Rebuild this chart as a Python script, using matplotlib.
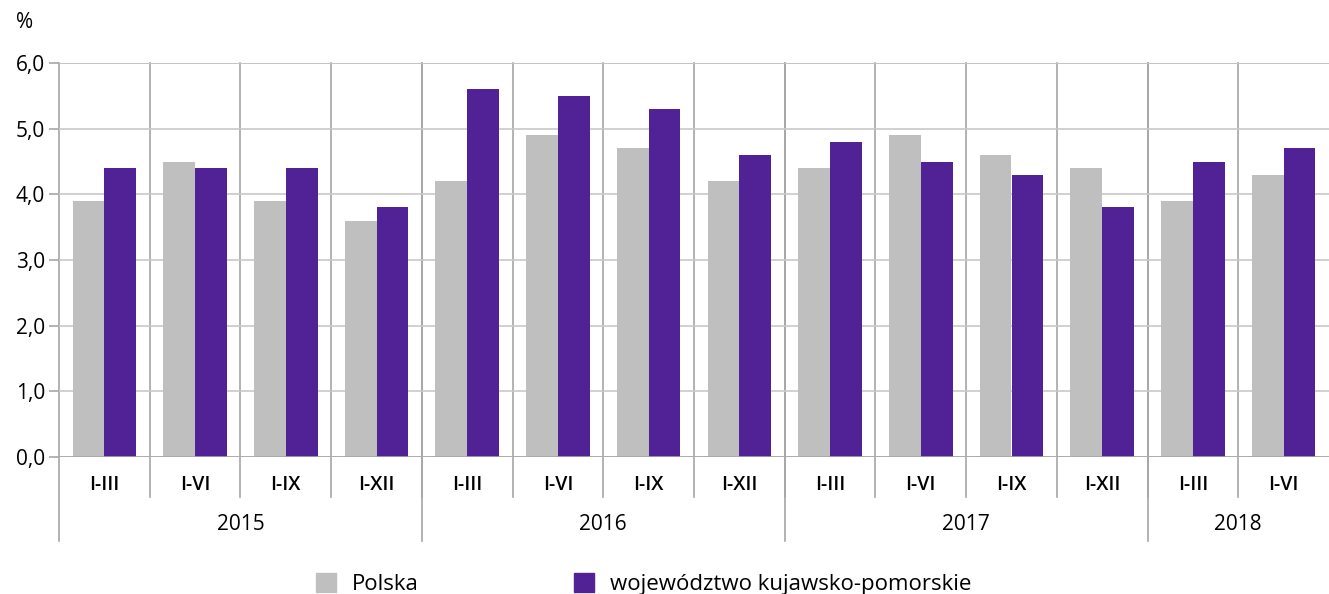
import numpy as np
import matplotlib.pyplot as plt
from matplotlib.patches import Patch

plt.rcParams['font.family'] = ['Open Sans', 'DejaVu Sans']

periods = ['I-III', 'I-VI', 'I-IX', 'I-XII'] * 3 + ['I-III', 'I-VI']
years = ['2015', '2016', '2017', '2018']
year_counts = [4, 4, 4, 2]
polska = [3.9, 4.5, 3.9, 3.6, 4.2, 4.9, 4.7, 4.2, 4.4, 4.9, 4.6, 4.4, 3.9, 4.3]
kujawsko = [4.4, 4.4, 4.4, 3.8, 5.6, 5.5, 5.3, 4.6, 4.8, 4.5, 4.3, 3.8, 4.5, 4.7]

gray = '#bfbfbf'
purple = '#512296'
line_col = '#a6a6a6'

W, H = 1329, 594
fig = plt.figure(figsize=(W / 100, H / 100), dpi=100)
ax = fig.add_axes([59 / W, 1 - 457 / H, 1 - 59 / W, (457 - 63) / H])

n = len(periods)
x = np.arange(n)
bw = 0.35
ax.bar(x - bw / 2, polska, bw, color=gray, zorder=2)
ax.bar(x + bw / 2, kujawsko, bw, color=purple, zorder=2)

ax.set_xlim(-0.5, n - 0.5)
ax.set_ylim(0, 6)
ax.set_yticks(np.arange(0, 7, 1))
ax.set_yticklabels([f'{v:.1f}'.replace('.', ',') for v in range(7)], fontsize=15)
ax.tick_params(axis='y', length=7, color=line_col, width=1.2, pad=3)
ax.set_xticks([])
ax.grid(axis='y', color='#c8c8c8', lw=1.2, zorder=0)
for s in ['top', 'right', 'bottom', 'left']:
    ax.spines[s].set_visible(False)
ax.axhline(6, color=line_col, lw=1.2, zorder=1)
ax.axhline(0, color=line_col, lw=1.2, zorder=3)

# one pixel in data units on y
px = 6 / (457 - 63)
# separators between periods
for i in range(1, n):
    ax.plot([i - 0.5, i - 0.5], [6, -40 * px], color=line_col, lw=1.2, clip_on=False, zorder=1)
# separators between years (longer) and left axis line
bounds = np.concatenate([[0], np.cumsum(year_counts)]) - 0.5
for b in bounds[:-1]:
    ax.plot([b, b], [6, -84 * px], color=line_col, lw=1.2, clip_on=False, zorder=1)

for i, p in enumerate(periods):
    ax.text(i, -28 * px, p, ha='center', va='center', fontsize=14, fontweight='semibold')
for j, yr in enumerate(years):
    ax.text((bounds[j] + bounds[j + 1]) / 2, -68 * px, yr, ha='center', va='center', fontsize=15)

fig.text(16 / W, 1 - 22 / H, '%', fontsize=15, va='center')

handles = [Patch(color=gray), Patch(color=purple)]
fig.legend(handles, ['Polska', 'województwo kujawsko-pomorskie'], loc='center left',
           bbox_to_anchor=(296 / W, 1 - 584 / H), ncol=2, frameon=False, fontsize=16,
           handlelength=0.9, handleheight=0.9, columnspacing=7.0, handletextpad=0.7)

fig.savefig('out.png', dpi=100)
